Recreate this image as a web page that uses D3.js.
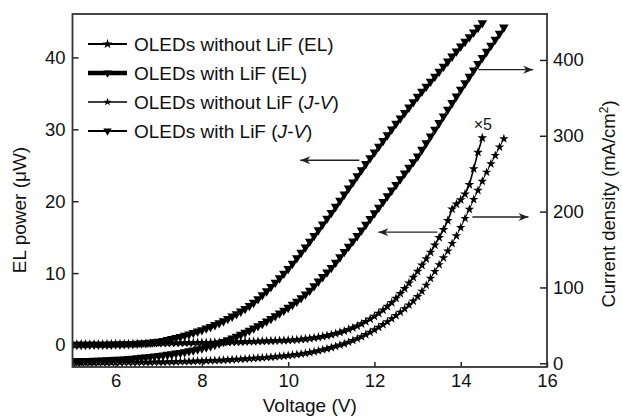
<!DOCTYPE html>
<html>
<head>
<meta charset="utf-8">
<title>OLED EL and J-V</title>
<style>
body { margin: 0; background: #fff; }
text { font-family: "Liberation Sans", Arial, sans-serif; fill: #111; }
.axis text { font-size: 18.5px; }
.axis line { stroke: #222; stroke-width: 1.5px; }
.frame { fill: none; stroke: #333; stroke-width: 1.8px; }
</style>
</head>
<body>
<script src="https://cdn.jsdelivr.net/npm/d3@7"></script>
<script>

// sweep voltage (V), one reading every 0.1 V
var voltage = [
  5.0, 5.1, 5.2, 5.3, 5.4, 5.5, 5.6, 5.7, 5.8, 5.9,
  6.0, 6.1, 6.2, 6.3, 6.4, 6.5, 6.6, 6.7, 6.8, 6.9,
  7.0, 7.1, 7.2, 7.3, 7.4, 7.5, 7.6, 7.7, 7.8, 7.9,
  8.0, 8.1, 8.2, 8.3, 8.4, 8.5, 8.6, 8.7, 8.8, 8.9,
  9.0, 9.1, 9.2, 9.3, 9.4, 9.5, 9.6, 9.7, 9.8, 9.9,
  10.0, 10.1, 10.2, 10.3, 10.4, 10.5, 10.6, 10.7, 10.8, 10.9,
  11.0, 11.1, 11.2, 11.3, 11.4, 11.5, 11.6, 11.7, 11.8, 11.9,
  12.0, 12.1, 12.2, 12.3, 12.4, 12.5, 12.6, 12.7, 12.8, 12.9,
  13.0, 13.1, 13.2, 13.3, 13.4, 13.5, 13.6, 13.7, 13.8, 13.9,
  14.0, 14.1, 14.2, 14.3, 14.4, 14.5, 14.6, 14.7, 14.8, 14.9,
  15.0
];

// EL power (uW), with LiF
var elWithLiF = [
  0.05, 0.05, 0.05, 0.05, 0.06, 0.06, 0.07, 0.07, 0.08, 0.09,
  0.10, 0.11, 0.13, 0.15, 0.17, 0.20, 0.24, 0.29, 0.35, 0.42,
  0.50, 0.60, 0.72, 0.85, 1.00, 1.15, 1.32, 1.50, 1.70, 1.90,
  2.10, 2.32, 2.55, 2.80, 3.06, 3.34, 3.65, 3.98, 4.32, 4.68,
  5.05, 5.45, 5.90, 6.40, 6.95, 7.50, 8.10, 8.70, 9.30, 9.95,
  10.60, 11.35, 12.10, 12.85, 13.60, 14.40, 15.20, 16.00, 16.80, 17.60,
  18.40, 19.25, 20.10, 20.95, 21.80, 22.65, 23.50, 24.35, 25.20, 26.00,
  26.80, 27.60, 28.40, 29.20, 30.00, 30.80, 31.55, 32.30, 33.05, 33.80,
  34.55, 35.25, 35.95, 36.65, 37.35, 38.05, 38.75, 39.45, 40.15, 40.85,
  41.55, 42.20, 42.85, 43.50, 44.15, 44.80
];

// EL power (uW), without LiF, already multiplied by 5
var elWithoutLiF = [
  0.10, 0.10, 0.11, 0.11, 0.12, 0.12, 0.13, 0.13, 0.14, 0.14,
  0.15, 0.15, 0.16, 0.16, 0.17, 0.18, 0.19, 0.20, 0.21, 0.22,
  0.23, 0.24, 0.25, 0.26, 0.27, 0.28, 0.29, 0.30, 0.31, 0.32,
  0.33, 0.34, 0.35, 0.36, 0.37, 0.38, 0.39, 0.40, 0.42, 0.43,
  0.45, 0.47, 0.49, 0.51, 0.53, 0.55, 0.57, 0.59, 0.61, 0.63,
  0.66, 0.69, 0.73, 0.78, 0.84, 0.91, 0.99, 1.08, 1.18, 1.30,
  1.43, 1.58, 1.75, 1.94, 2.15, 2.38, 2.64, 2.93, 3.25, 3.60,
  3.98, 4.40, 4.86, 5.36, 5.90, 6.50, 7.15, 7.85, 8.60, 9.40,
  10.25, 11.10, 12.00, 12.90, 13.90, 14.95, 16.05, 17.30, 18.90, 19.60,
  20.20, 21.00, 22.30, 24.50, 26.80, 28.80
];

// current density (mA/cm2), with LiF
var jvWithLiF = [
  3.0, 3.1, 3.2, 3.3, 3.4, 3.6, 3.8, 4.0, 4.2, 4.5,
  4.8, 5.1, 5.4, 5.8, 6.4, 6.9, 7.5, 8.0, 8.6, 9.3,
  10.0, 10.7, 11.4, 12.1, 13.2, 14.0, 15.0, 16.1, 17.2, 18.5,
  19.8, 21.3, 22.9, 24.6, 26.4, 28.4, 30.6, 32.9, 35.3, 37.8,
  40.4, 43.2, 46.1, 49.1, 52.2, 55.4, 58.8, 62.3, 65.9, 69.6,
  73.4, 77.4, 81.6, 86.0, 91.0, 96.0, 102.0, 108.0, 114.0, 120.0,
  126.0, 133.0, 140.0, 147.0, 154.0, 161.0, 168.0, 175.5, 183.0, 190.5,
  198.0, 205.5, 213.0, 220.5, 228.0, 235.5, 243.0, 250.5, 258.0, 265.5,
  273.0, 281.8, 290.6, 299.4, 308.2, 317.0, 325.8, 334.6, 343.4, 352.2,
  361.0, 369.5, 378.0, 386.5, 395.0, 403.0, 411.0, 419.0, 427.0, 435.0,
  443.0
];

// current density (mA/cm2), without LiF
var jvWithoutLiF = [
  0.5, 0.5, 0.6, 0.6, 0.7, 0.7, 0.8, 0.8, 0.9, 0.9,
  1.0, 1.0, 1.1, 1.1, 1.2, 1.2, 1.3, 1.4, 1.4, 1.5,
  1.6, 1.7, 1.8, 1.9, 2.0, 2.2, 2.3, 2.5, 2.7, 2.9,
  3.1, 3.3, 3.5, 3.7, 4.0, 4.2, 4.5, 4.8, 5.1, 5.4,
  5.8, 6.1, 6.5, 6.9, 7.3, 7.7, 8.1, 8.6, 9.1, 9.6,
  10.2, 10.8, 11.5, 12.3, 13.2, 14.2, 15.3, 16.5, 17.8, 19.2,
  20.7, 22.3, 24.0, 25.8, 27.8, 30.0, 32.4, 35.0, 37.8, 40.8,
  44.0, 47.4, 51.0, 54.8, 58.8, 63.0, 67.4, 72.0, 76.8, 82.0,
  88.0, 95.0, 103.0, 112.0, 121.0, 130.0, 139.0, 148.0, 158.0, 168.0,
  179.0, 191.0, 203.0, 216.0, 228.0, 240.0, 252.0, 263.0, 274.0, 285.0,
  296.0
];

var xTicks = [6, 8, 10, 12, 14, 16];
var leftTicks = [0, 10, 20, 30, 40];
var rightTicks = [0, 100, 200, 300, 400];

// arrows pointing at the axis each curve belongs to (V, EL power)
var arrows = [
  {from: [11.65, 25.7], to: [10.28, 25.7]},
  {from: [14.41, 38.3], to: [15.68, 38.3]},
  {from: [13.46, 15.7], to: [12.09, 15.7]},
  {from: [14.27, 17.8], to: [15.57, 17.8]}
];
var factorLabel = {v: 14.3, el: 29.9, text: "\u00d75"};

var width = 622,
    height = 418,
    margin = {top: 14, right: 75, bottom: 51, left: 72.5};

var x = d3.scaleLinear().domain([5, 16]).range([margin.left, width - margin.right]);
var yL = d3.scaleLinear().domain([-3.06, 46.04]).range([height - margin.bottom, margin.top]);
var yR = d3.scaleLinear().domain([-4.9, 460.6]).range([height - margin.bottom, margin.top]);

var series = [
  {label: ["OLEDs without LiF (EL)"], values: elWithoutLiF, y: yL, symbol: d3.symbolStar,
   size: 30, rot: 0, line: 1.6, legendLine: 2.2, legendSize: 30},
  {label: ["OLEDs with LiF (EL)"], values: elWithLiF, y: yL, symbol: d3.symbolTriangle,
   size: 40, rot: 180, line: 1.5, legendLine: 4.5, legendSize: 30},
  {label: ["OLEDs without LiF (", "J-V", ")"], values: jvWithoutLiF, y: yR, symbol: d3.symbolStar,
   size: 28, rot: 0, line: 1, legendLine: 1.6, legendSize: 20},
  {label: ["OLEDs with LiF (", "J-V", ")"], values: jvWithLiF, y: yR, symbol: d3.symbolTriangle,
   size: 40, rot: 180, line: 1.2, legendLine: 2, legendSize: 30}
];

var svg = d3.select("body").append("svg")
    .attr("width", width)
    .attr("height", height);

svg.append("defs").append("clipPath").attr("id", "plot")
  .append("rect")
    .attr("x", x.range()[0])
    .attr("y", margin.top)
    .attr("width", x.range()[1] - x.range()[0])
    .attr("height", height - margin.bottom - margin.top);

var plot = svg.append("g").attr("clip-path", "url(#plot)");

series.forEach(function(s) {
  var pts = s.values.map(function(v, i) { return [voltage[i], v]; });
  var g = plot.append("g");
  g.append("path")
      .datum(pts)
      .attr("fill", "none")
      .attr("stroke", "#000")
      .attr("stroke-width", s.line)
      .attr("d", d3.line()
        .x(function(d) { return x(d[0]); })
        .y(function(d) { return s.y(d[1]); }));
  g.selectAll("path.mark")
      .data(pts)
      .enter().append("path")
      .attr("class", "mark")
      .attr("fill", "#000")
      .attr("d", d3.symbol().type(s.symbol).size(s.size))
      .attr("transform", function(d) {
        return "translate(" + x(d[0]) + "," + s.y(d[1]) + ") rotate(" + s.rot + ")";
      });
});

// axes, ticks pointing inwards
var gx = svg.append("g").attr("class", "axis")
    .attr("transform", "translate(0," + (height - margin.bottom) + ")")
    .call(d3.axisBottom(x).tickValues(xTicks).tickSize(-5).tickPadding(7));
var gl = svg.append("g").attr("class", "axis")
    .attr("transform", "translate(" + margin.left + ",0)")
    .call(d3.axisLeft(yL).tickValues(leftTicks).tickSize(-6).tickPadding(7));
var gr = svg.append("g").attr("class", "axis")
    .attr("transform", "translate(" + (width - margin.right) + ",0)")
    .call(d3.axisRight(yR).tickValues(rightTicks).tickSize(-7).tickPadding(6));
[gx, gl, gr].forEach(function(g) {
  g.select(".domain").remove();
  g.selectAll("text").attr("fill", "#111");
});

svg.append("rect")
    .attr("class", "frame")
    .attr("x", x.range()[0])
    .attr("y", margin.top)
    .attr("width", x.range()[1] - x.range()[0])
    .attr("height", height - margin.bottom - margin.top);

// axis titles
svg.append("text")
    .attr("x", (x.range()[0] + x.range()[1]) / 2)
    .attr("y", 412)
    .attr("text-anchor", "middle")
    .style("font-size", "19px")
    .text("Voltage (V)");

svg.append("text")
    .attr("transform", "translate(26,210) rotate(-90)")
    .attr("text-anchor", "middle")
    .style("font-size", "19px")
    .text("EL power (\u03bcW)");

var rt = svg.append("text")
    .attr("transform", "translate(615,204) rotate(-90)")
    .attr("text-anchor", "middle")
    .style("font-size", "18.5px");
rt.append("tspan").text("Current density (mA/cm");
rt.append("tspan").attr("dy", -7).style("font-size", "12px").text("2");
rt.append("tspan").attr("dy", 7).text(")");

// arrows
svg.append("defs").append("marker")
    .attr("id", "head")
    .attr("viewBox", "0 0 10 8")
    .attr("refX", 10).attr("refY", 4)
    .attr("markerWidth", 11).attr("markerHeight", 8)
    .attr("markerUnits", "userSpaceOnUse")
    .attr("orient", "auto")
  .append("path")
    .attr("d", "M0,0L10,4L0,8L3,4Z")
    .attr("fill", "#222");

svg.selectAll("line.arrow")
    .data(arrows)
    .enter().append("line")
    .attr("class", "arrow")
    .attr("x1", function(d) { return x(d.from[0]); })
    .attr("y1", function(d) { return yL(d.from[1]); })
    .attr("x2", function(d) { return x(d.to[0]); })
    .attr("y2", function(d) { return yL(d.to[1]); })
    .attr("stroke", "#222")
    .attr("stroke-width", 1.4)
    .attr("marker-end", "url(#head)");

svg.append("text")
    .attr("x", x(factorLabel.v))
    .attr("y", yL(factorLabel.el))
    .style("font-size", "16px")
    .text(factorLabel.text);

// legend
var legend = svg.append("g").attr("transform", "translate(88,44)");
series.forEach(function(s, i) {
  var row = legend.append("g").attr("transform", "translate(0," + (i * 29) + ")");
  row.append("line")
      .attr("x1", 0).attr("x2", 39)
      .attr("stroke", "#000")
      .attr("stroke-width", s.legendLine);
  row.append("path")
      .attr("fill", "#000")
      .attr("d", d3.symbol().type(s.symbol).size(s.legendSize))
      .attr("transform", "translate(19.5,0) rotate(" + s.rot + ")");
  var t = row.append("text")
      .attr("x", 46)
      .attr("y", 7)
      .style("font-size", "19px");
  s.label.forEach(function(part, j) {
    var span = t.append("tspan").text(part);
    if (j === 1) span.style("font-style", "italic");
  });
});

</script>
</body>
</html>
